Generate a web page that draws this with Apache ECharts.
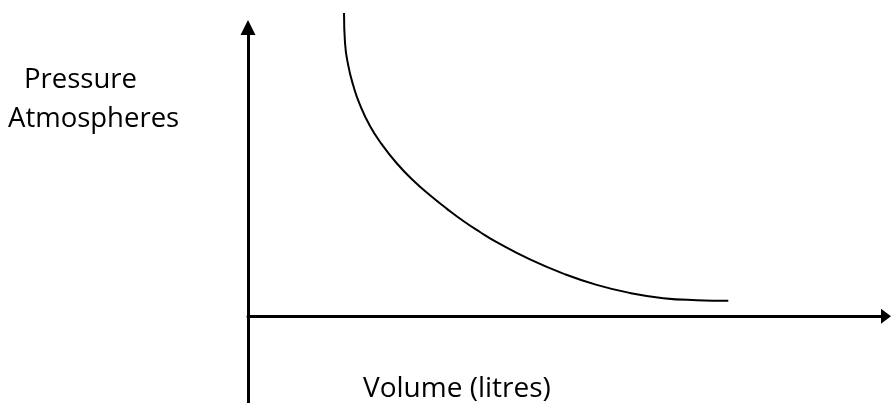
<!DOCTYPE html>
<html>
<head>
<meta charset="utf-8">
<script src="https://cdn.jsdelivr.net/npm/echarts@6/dist/echarts.min.js"></script>
<style>
    html, body { margin: 0; padding: 0; background: #fff; }
    #chart { width: 891px; height: 403px; }
</style>
</head>
<body>
<div id="chart"></div>
<script>
// volume (x) and pressure (y)
let volume   = [15.05, 15.20, 15.72, 16.50, 17.55, 19.12, 20.96, 23.31, 25.91, 28.53, 31.14, 33.75, 36.36, 38.98, 44.20, 49.42, 54.65, 59.87, 65.09, 70.33, 75.28];
let pressure = [105.0, 94.8, 86.8, 79.9, 73.2, 65.9, 59.6, 53.0, 47.0, 41.9, 37.3, 33.0, 29.2, 25.7, 19.7, 14.8, 10.9, 8.1, 6.3, 5.6, 5.4];

let yTitle = ['Pressure', 'Atmospheres'];
let xTitle = 'Volume (litres)';

let chart = echarts.init(document.getElementById('chart'));
let font = '"Open Sans", sans-serif';

let option = {
    animation: false,
    backgroundColor: '#fff',
    grid: {
        left: 248,
        right: 5,
        top: 27.5,
        bottom: 0
    },
    xAxis: {
        type: 'value',
        min: 0,
        max: 100,
        axisLine: {
            show: true,
            symbol: ['none', 'triangle'],
            symbolSize: [15, 10],
            lineStyle: { color: '#000', width: 3 }
        },
        axisTick: { show: false },
        axisLabel: { show: false },
        splitLine: { show: false }
    },
    yAxis: {
        type: 'value',
        min: -30,
        max: 100,
        axisLine: {
            show: true,
            symbol: ['none', 'triangle'],
            symbolSize: [15, 15],
            lineStyle: { color: '#000', width: 3 }
        },
        axisTick: { show: false },
        axisLabel: { show: false },
        splitLine: { show: false }
    },
    graphic: [
        {
            type: 'text', left: 24, top: 66,
            style: { text: yTitle[0], font: '27.5px ' + font, fill: '#000' }
        },
        {
            type: 'text', left: 8, top: 105,
            style: { text: yTitle[1], font: '27.5px ' + font, fill: '#000' }
        },
        {
            type: 'text', left: 363, top: 375,
            style: { text: xTitle, font: '28px ' + font, fill: '#000' }
        }
    ],
    series: [
        {
            type: 'line',
            data: volume.map((v, i) => [v, pressure[i]]),
            smooth: 0.5,
            showSymbol: false,
            clip: false,
            lineStyle: { color: '#000', width: 2 }
        }
    ]
};
chart.setOption(option);
</script>
</body>
</html>
